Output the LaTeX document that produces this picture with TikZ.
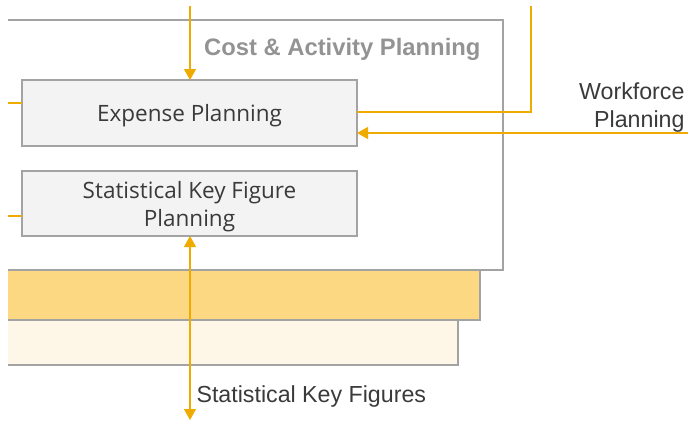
\documentclass[tikz,border=0pt]{standalone}
\usepackage{fontspec}
\setmainfont{Liberation Sans}
\newfontfamily\kastenfont{Open Sans}
\usepackage{tikz}
\usetikzlibrary{arrows.meta}
\definecolor{sapgold}{HTML}{F0AB00}
\definecolor{rahmen}{HTML}{A3A3A3}
\definecolor{kasten}{HTML}{F3F3F3}
\definecolor{band}{HTML}{FDD883}
\definecolor{bandhell}{HTML}{FEF7E7}
\definecolor{schrift}{HTML}{3A3A3A}
\tikzset{
  planbox/.style={anchor=north west,draw=rahmen,fill=kasten,line width=1.2pt,
    minimum width=335pt,inner sep=0pt,outer sep=0pt,align=center,text=schrift,
    text depth=0pt,font=\kastenfont\fontsize{22.5}{28}\selectfont},
  fluss/.style={draw=sapgold,line width=1.3pt},
  spitze/.style={arrows={-Triangle[length=11pt,width=12pt]}},
  doppelspitze/.style={arrows={Triangle[length=11pt,width=12pt]-Triangle[length=11pt,width=12pt]}}
}

\begin{document}
\begin{tikzpicture}[x=1pt,y=-1pt]
  \useasboundingbox (0,0) rectangle (690,421);
  % Baender unten
  \fill[band] (8,270) rectangle (480,320);
  \fill[bandhell] (8,320) rectangle (458,365);
  \draw[rahmen,line width=1.2pt] (8,320) -- (480,320) -- (480,270);
  \draw[rahmen,line width=1.2pt] (8,365) -- (458,365) -- (458,320);
  % Rahmen Cost & Activity Planning
  \draw[rahmen,line width=1.2pt] (8,20) -- (503,20) -- (503,270) -- (8,270);
  \draw (484,49) node[anchor=east,text=gray!85,font=\bfseries\fontsize{23.8}{28}\selectfont]
  (titel) {Cost \& Activity Planning};
  \draw
  (22,80) node[planbox,minimum height=66pt] (expense-planning) {Expense Planning}
  ++(0,91) node[planbox,minimum height=65pt] (skf-planning) {Statistical Key Figure\\Planning}
  ;
  % Ein- und Ausgaenge
  \coordinate (oben-rein) at (190,6);
  \coordinate (oben-raus) at (531,6);
  \coordinate (workforce) at (688,133);
  \coordinate (links-eins) at (8,103);
  \coordinate (links-zwei) at (8,216);
  \coordinate (unten) at (190,420);
  \draw[fluss,spitze] (oben-rein) -- (oben-rein |- expense-planning.north);
  \draw[fluss] (expense-planning.east |- 0,112) -| (oben-raus);
  \draw[fluss,spitze] (workforce) -- (workforce -| expense-planning.east);
  \draw[fluss] (links-eins) -- (links-eins -| expense-planning.west);
  \draw[fluss] (links-zwei) -- (links-zwei -| skf-planning.west);
  \draw[fluss,doppelspitze] (unten |- skf-planning.south) -- (unten);
  \draw (688,107) node[anchor=east,align=right,text=schrift,font=\fontsize{23.2}{28}\selectfont]
  (workforce-text) {Workforce\\Planning}
  (193,396) node[anchor=west,text=schrift,font=\fontsize{23.2}{26}\selectfont]
  (skf-text) {Statistical Key Figures};
\end{tikzpicture}
\end{document}
